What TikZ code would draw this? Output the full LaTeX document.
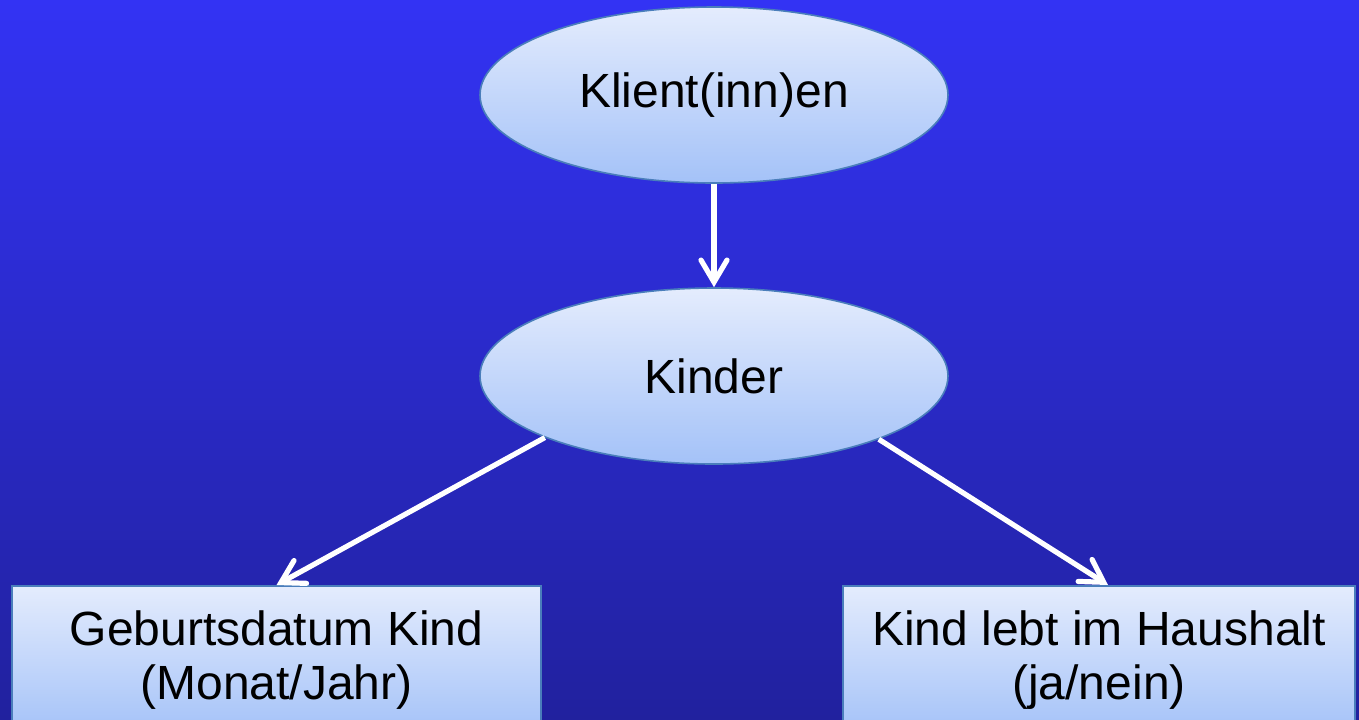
\documentclass[tikz,border=0pt]{standalone}
\usepackage{fontspec}
\setmainfont{Liberation Sans}
\usetikzlibrary{shapes.geometric,arrows.meta}
\definecolor{bgtop}{RGB}{51,51,244}
\definecolor{bgbot}{RGB}{33,33,158}
\definecolor{filltop}{RGB}{228,236,253}
\definecolor{fillbot}{RGB}{164,194,248}
\definecolor{edge}{RGB}{74,126,187}
\begin{document}
\begin{tikzpicture}[x=0.5pt,y=-0.5pt,
  oval/.style={ellipse,draw=edge,line width=0.8pt,top color=filltop,bottom color=fillbot,
    minimum width=234pt,minimum height=88pt,inner sep=0pt,font=\fontsize{24}{27}\selectfont},
  leaf/.style={rectangle,draw=edge,line width=0.8pt,top color=filltop,bottom color=fillbot,
    minimum width=264.5pt,minimum height=74pt,inner sep=0pt,anchor=north,align=center,
    font=\fontsize{24}{27}\selectfont},
  conn/.style={draw=white,line width=2.6pt,-{Straight Barb[length=11pt,width=13pt,line cap=round]}}]
\useasboundingbox (0,0) rectangle (1359,719);
\shade[top color=bgtop,bottom color=bgbot] (0,0) rectangle (1359,719);
\node[oval] (kli) at (714,95) {Klient(inn)en};
\node[oval] (kin) at (714,376) {Kinder};
\node[leaf] (geb) at (276.5,585) {Geburtsdatum Kind\\(Monat/Jahr)};
\node[leaf,minimum width=256pt] (hau) at (1099,585) {Kind lebt im Haushalt\\(ja/nein)};
\draw[conn] (kli.south) -- (kin.north);
\draw[conn] (kin.200.5) -- (geb.north);
\draw[conn] (kin.339.5) -- ([xshift=4.5pt]hau.north);
\end{tikzpicture}
\end{document}
